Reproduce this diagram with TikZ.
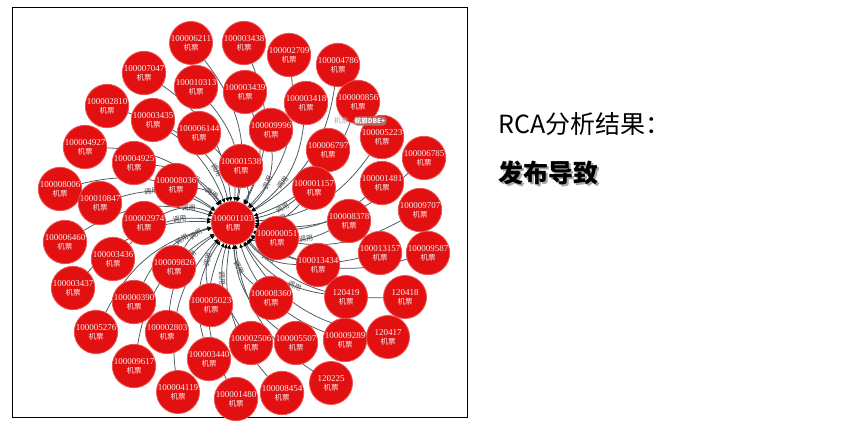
\documentclass[tikz,border=0pt]{standalone}
\usepackage{fontspec}
\setmainfont{Liberation Serif}
\newfontfamily\cjk{Noto Sans CJK SC}
\usepackage{tikz}
\usetikzlibrary{
	arrows.meta,
	positioning,
	backgrounds
}
\definecolor{nodered}{RGB}{226,16,16}
\definecolor{noderim}{RGB}{236,80,80}
\definecolor{nodetext}{RGB}{252,238,238}
\definecolor{linkgray}{RGB}{70,86,92}
\definecolor{labelgray}{RGB}{70,70,70}
\definecolor{pillbrown}{RGB}{178,108,104}
\newcommand{\tk}[1]{#1\\{\cjk\fontsize{7.5}{8}\selectfont 机票}}

\begin{document}
\begin{tikzpicture}[
		x=1pt, y=-1pt,
		ticket/.style={circle, fill=nodered, draw=noderim, line width=0.8pt, minimum size=43pt, inner sep=0pt, text=nodetext, align=center, font=\fontsize{9}{9}\selectfont},
		call/.style={-{Triangle[length=4pt,width=3.6pt,color=black]}, draw=linkgray, line width=0.75pt},
		lbl/.style={font=\cjk\fontsize{7}{7}\selectfont, text=labelgray, sloped, inner sep=1pt},
		pill/.style={fill=pillbrown, rounded corners=4pt, text=white, font=\cjk\bfseries\fontsize{6.5}{7}\selectfont, inner sep=1.5pt}
		]
		\useasboundingbox (0,0) rectangle (841,421);
		\draw[line width=0.8pt] (12,7) rectangle (467,417);
		
		% =========================
		% Centre: the faulty service
		% =========================
		\node[ticket] (c) at (233,223) {\tk{100001103}};
		
		% =========================
		% Upper half
		% =========================
		\node[ticket] (a6211) at (191,43) {\tk{100006211}};
		\node[ticket] (a3438) at (244,43) {\tk{100003438}};
		\node[ticket] (a2709) at (289,55) {\tk{100002709}};
		\node[ticket] (a4786) at (338,65) {\tk{100004786}};
		\node[ticket] (a7047) at (144,73) {\tk{100007047}};
		\node[ticket] (a10313) at (196,87) {\tk{100010313}};
		\node[ticket] (a3439) at (245,92) {\tk{100003439}};
		\node[ticket] (a3418) at (306,103) {\tk{100003418}};
		\node[ticket] (a0856) at (358,102) {\tk{100000856}};
		\node[ticket] (a2810) at (107,106) {\tk{100002810}};
		\node[ticket] (a3435) at (153,120) {\tk{100003435}};
		\node[ticket] (a6144) at (199,133) {\tk{100006144}};
		\node[ticket] (a9996) at (271,130) {\tk{100009996}};
		\node[ticket] (a5223) at (382,137) {\tk{100005223}};
		\node[ticket] (a4927) at (85,147) {\tk{100004927}};
		\node[ticket] (a6797) at (328,150) {\tk{100006797}};
		\node[ticket] (a6785) at (424,158) {\tk{100006785}};
		\node[ticket] (a4925) at (134,163) {\tk{100004925}};
		\node[ticket] (a1538) at (241,166) {\tk{100001538}};
		\node[ticket] (a1481) at (382,183) {\tk{100001481}};
		\node[ticket] (a8006) at (60,189) {\tk{100008006}};
		\node[ticket] (a8036) at (176,185) {\tk{100008036}};
		\node[ticket] (a1157) at (314,188) {\tk{100001157}};
		\node[ticket] (a10847) at (100,203) {\tk{100010847}};
		\node[ticket] (a9707) at (420,210) {\tk{100009707}};
		\node[ticket] (a2974) at (144,223) {\tk{100002974}};
		\node[ticket] (a8378) at (349,221) {\tk{100008378}};
		
		% =========================
		% Lower half
		% =========================
		\node[ticket] (a0051) at (277,238) {\tk{100000051}};
		\node[ticket] (a6460) at (65,242) {\tk{100006460}};
		\node[ticket] (a13157) at (380,253) {\tk{100013157}};
		\node[ticket] (a9587) at (428,253) {\tk{100009587}};
		\node[ticket] (a3436) at (113,259) {\tk{100003436}};
		\node[ticket] (a9826) at (174,267) {\tk{100009826}};
		\node[ticket] (a13434) at (318,265) {\tk{100013434}};
		\node[ticket] (a3437) at (73,288) {\tk{100003437}};
		\node[ticket] (a0390) at (134,302) {\tk{100000390}};
		\node[ticket] (a5023) at (211,305) {\tk{100005023}};
		\node[ticket] (a8360) at (271,298) {\tk{100008360}};
		\node[ticket] (b120419) at (346,297) {\tk{120419}};
		\node[ticket] (b120418) at (405,297) {\tk{120418}};
		\node[ticket] (a5276) at (96,332) {\tk{100005276}};
		\node[ticket] (a2803) at (167,332) {\tk{100002803}};
		\node[ticket] (a2506) at (251,343) {\tk{100002506}};
		\node[ticket] (a5507) at (296,343) {\tk{100005507}};
		\node[ticket] (a9289) at (345,340) {\tk{100009289}};
		\node[ticket] (b120417) at (388,337) {\tk{120417}};
		\node[ticket] (a3440) at (209,359) {\tk{100003440}};
		\node[ticket] (a9617) at (134,366) {\tk{100009617}};
		\node[ticket] (a4119) at (178,392) {\tk{100004119}};
		\node[ticket] (a1480) at (236,399) {\tk{100001480}};
		\node[ticket] (a8454) at (282,393) {\tk{100008454}};
		\node[ticket] (b120225) at (331,383) {\tk{120225}};
		
		% =========================
		% Calls into the centre (behind the circles)
		% =========================
		\begin{scope}[on background layer]
		\draw[call] (a6211) to[bend left=25] (c);
		\draw[call] (a3438) to[bend left=25] (c);
		\draw[call] (a2709) to[bend left=25] (c);
		\draw[call] (a4786) to[bend left=25] (c);
		\draw[call] (a7047) to[bend left=25] (c);
		\draw[call] (a10313) to[bend left=25] node[lbl, pos=0.7]{调用} (c);
		\draw[call] (a3439) to[bend left=25] (c);
		\draw[call] (a3418) to[bend left=25] node[lbl, pos=0.6]{调用} (c);
		\draw[call] (a0856) to[bend left=25] (c);
		\draw[call] (a2810) to[bend left=25] (c);
		\draw[call] (a3435) to[bend left=25] node[lbl, pos=0.65]{调用} (c);
		\draw[call] (a6144) to[bend left=25] node[lbl]{调用} (c);
		\draw[call] (a9996) to[bend left=25] node[lbl]{调用} (c);
		\draw[call] (a5223) to[bend left=25] (c);
		\draw[call] (a4927) to[bend left=25] node[lbl, pos=0.3]{调用} (c);
		\draw[call] (a6797) to[bend left=25] node[lbl, pos=0.65]{调用} (c);
		\draw[call] (a6785) to[bend left=25] (c);
		\draw[call] (a4925) to[bend left=25] node[lbl]{调用} (c);
		\draw[call] (a1538) to[bend left=25] (c);
		\draw[call] (a1481) to[bend left=25] (c);
		\draw[call] (a8006) to[bend left=25] (c);
		\draw[call] (a8036) to[bend left=25] node[lbl]{调用} (c);
		\draw[call] (a1157) to[bend left=25] node[lbl]{调用} (c);
		\draw[call] (a10847) to[bend left=25] node[lbl, pos=0.3]{调用} (c);
		\draw[call] (a9707) to[bend left=25] (c);
		\draw[call] (a2974) to[bend left=25] node[lbl]{调用} (c);
		\draw[call] (a8378) to[bend left=25] node[lbl, pos=0.3]{调用} (c);
		\draw[call] (a0051) to[bend left=25] (c);
		\draw[call] (a6460) to[bend left=25] (c);
		\draw[call] (a13157) to[bend left=25] (c);
		\draw[call] (a9587) to[bend left=25] (c);
		\draw[call] (a3436) to[bend left=25] node[lbl, pos=0.65]{调用} (c);
		\draw[call] (a9826) to[bend left=25] node[lbl]{调用} (c);
		\draw[call] (a13434) to[bend left=25] node[lbl]{调用} (c);
		\draw[call] (a3437) to[bend left=25] (c);
		\draw[call] (a0390) to[bend left=25] node[lbl, pos=0.65]{调用} (c);
		\draw[call] (a5023) to[bend left=25] node[lbl]{调用} (c);
		\draw[call] (a8360) to[bend left=25] node[lbl]{调用} (c);
		\draw[call] (b120419) to[bend left=25] node[lbl, pos=0.3]{调用} (c);
		\draw[call] (b120418) to[bend left=25] (c);
		\draw[call] (a5276) to[bend left=25] (c);
		\draw[call] (a2803) to[bend left=25] node[lbl, pos=0.65]{调用} (c);
		\draw[call] (a2506) to[bend left=25] node[lbl, pos=0.6]{调用} (c);
		\draw[call] (a5507) to[bend left=25] node[lbl, pos=0.3]{调用} (c);
		\draw[call] (a9289) to[bend left=25] (c);
		\draw[call] (b120417) to[bend left=25] (c);
		\draw[call] (a3440) to[bend left=25] (c);
		\draw[call] (a9617) to[bend left=25] (c);
		\draw[call] (a4119) to[bend left=25] (c);
		\draw[call] (a1480) to[bend left=25] (c);
		\draw[call] (a8454) to[bend left=25] (c);
		\draw[call] (b120225) to[bend left=25] (c);
		\end{scope}
		
		% Hover tooltip
		\node[font=\cjk\fontsize{7}{8}\selectfont, text=gray!70, inner sep=1pt] (tipkey) at (342,121) {机票:};
		\node[pill, right=2pt of tipkey] (tip) {航旅DBE+};
		
		% =========================
		% Result text
		% =========================
		\node[anchor=west, font=\cjk\fontsize{25}{28}\selectfont, inner sep=0pt] (rca) at (498,124) {RCA分析结果：};
		\node[anchor=west, font=\cjk\bfseries\fontsize{25}{28}\selectfont, text=black!35, inner sep=0pt] (shadow) at (500,175) {发布导致};
		\node[anchor=west, font=\cjk\bfseries\fontsize{25}{28}\selectfont, inner sep=0pt] (cause) at (498,173) {发布导致};
		
	\end{tikzpicture}
\end{document}
